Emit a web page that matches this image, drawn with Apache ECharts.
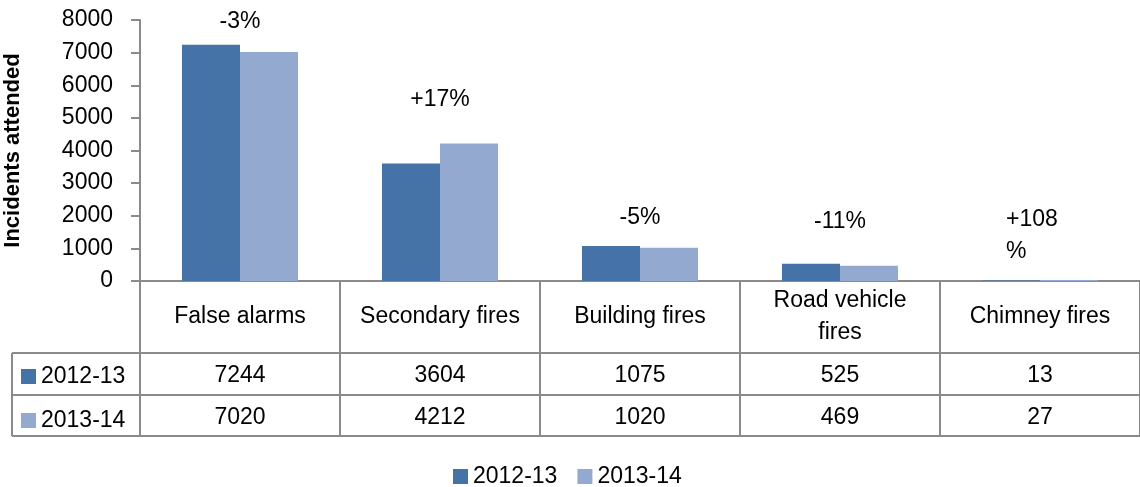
<!DOCTYPE html>
<html>
<head>
<meta charset="utf-8">
<script src="https://cdn.jsdelivr.net/npm/echarts@6/dist/echarts.min.js"></script>
<style>
    html, body { margin: 0; padding: 0; background: #ffffff; }
    #chart { width: 1140px; height: 487px; }
</style>
</head>
<body>
<div id="chart"></div>
<script>
    // data
    var categories = ['False alarms', 'Secondary fires', 'Building fires', 'Road vehicle\nfires', 'Chimney fires'];
    var seriesNames = ['2012-13', '2013-14'];
    var values2012 = [7244, 3604, 1075, 525, 13];
    var values2013 = [7020, 4212, 1020, 469, 27];
    var changeLabels = ['-3%', '+17%', '-5%', '-11%', '+108\n%'];
    var yTicks = [0, 1000, 2000, 3000, 4000, 5000, 6000, 7000, 8000];

    var FONT = "'Liberation Sans', Arial, sans-serif";
    var LINE = '#8a8a8a';
    var gridLeft = 140, gridTop = 20, gridBottom = 206;
    var axisY = 487 - gridBottom;         // pixel row of the x axis
    var row1 = 72, row2 = 114, row3 = 155; // table row lines below the axis

    // label placement above the light bar (style only)
    var labelLift = [14, 28, 14, 28, 12];

    var chart = echarts.init(document.getElementById('chart'));

    function valueAxis(data, offset, showLabel) {
        return {
            type: 'category',
            data: data,
            position: 'bottom',
            offset: offset,
            axisLine: {show: true, lineStyle: {color: LINE, width: 2}},
            axisTick: {show: false},
            axisLabel: {
                show: showLabel,
                interval: 0,
                color: '#000',
                fontFamily: FONT,
                fontSize: 23,
                verticalAlign: 'middle',
                margin: 23
            }
        };
    }

    var lightData = values2013.map(function (v, i) {
        var item = {
            value: v,
            label: {offset: [-29, -labelLift[i]]}
        };
        if (changeLabels[i].indexOf('\n') >= 0) {
            item.label = {offset: [-63, -labelLift[i]], align: 'left'};
        }
        return item;
    });

    chart.setOption({
        animation: false,
        color: ['#4572a7', '#93a9cf'],
        textStyle: {fontFamily: FONT},
        grid: {
            left: gridLeft, right: 0, top: gridTop, bottom: gridBottom,
            containLabel: false, outerBoundsMode: 'none'
        },
        legend: [{
            data: seriesNames,
            selectedMode: false,
            orient: 'horizontal',
            left: 453,
            top: 465,
            padding: 0,
            icon: 'rect',
            itemWidth: 15,
            itemHeight: 15,
            itemGap: 20,
            textStyle: {color: '#000', fontSize: 23, fontFamily: FONT, lineHeight: 20}
        }, {
            data: seriesNames,
            selectedMode: false,
            orient: 'vertical',
            left: 21,
            top: 365,
            padding: 0,
            icon: 'rect',
            itemWidth: 15,
            itemHeight: 15,
            itemGap: 21,
            textStyle: {color: '#000', fontSize: 23, fontFamily: FONT, lineHeight: 20}
        }],
        xAxis: [{
            type: 'category',
            data: categories,
            position: 'bottom',
            axisLine: {show: true, lineStyle: {color: LINE, width: 2}},
            axisTick: {show: true, interval: 0, length: row3, lineStyle: {color: LINE, width: 2}},
            axisLabel: {
                interval: 0,
                color: '#000',
                fontFamily: FONT,
                fontSize: 23,
                lineHeight: 32,
                verticalAlign: 'middle',
                margin: 36
            }
        },
            valueAxis(values2012.map(String), row1, true),
            valueAxis(values2013.map(String), row2, true),
            valueAxis(values2013.map(String), row3, false)
        ],
        yAxis: {
            type: 'value',
            min: yTicks[0],
            max: yTicks[yTicks.length - 1],
            interval: 1000,
            name: 'Incidents attended',
            nameLocation: 'middle',
            nameGap: 116,
            nameTextStyle: {color: '#000', fontSize: 22, fontWeight: 'bold', fontFamily: FONT},
            splitLine: {show: false},
            axisLine: {show: true, lineStyle: {color: LINE, width: 2}},
            axisTick: {show: true, length: 9, lineStyle: {color: LINE, width: 2}},
            axisLabel: {
                color: '#000', fontSize: 23, fontFamily: FONT, margin: 27,
                formatter: function (v) { return String(v); }
            }
        },
        series: [{
            name: seriesNames[0],
            type: 'bar',
            data: values2012,
            barGap: '0%',
            barCategoryGap: '42%'
        }, {
            name: seriesNames[1],
            type: 'bar',
            data: lightData,
            label: {
                show: true,
                position: 'top',
                distance: 0,
                color: '#000',
                fontSize: 23,
                lineHeight: 32,
                fontFamily: FONT,
                formatter: function (p) {
                    return changeLabels[p.dataIndex];
                }
            }
        }],
        // left-hand cells of the data table
        graphic: [
            {type: 'line', shape: {x1: 12, y1: axisY + row1, x2: gridLeft, y2: axisY + row1}, style: {stroke: LINE, lineWidth: 2}},
            {type: 'line', shape: {x1: 12, y1: axisY + row2, x2: gridLeft, y2: axisY + row2}, style: {stroke: LINE, lineWidth: 2}},
            {type: 'line', shape: {x1: 12, y1: axisY + row3, x2: gridLeft, y2: axisY + row3}, style: {stroke: LINE, lineWidth: 2}},
            {type: 'line', shape: {x1: 12, y1: axisY + row1, x2: 12, y2: axisY + row3}, style: {stroke: LINE, lineWidth: 2}}
        ]
    });
</script>
</body>
</html>
